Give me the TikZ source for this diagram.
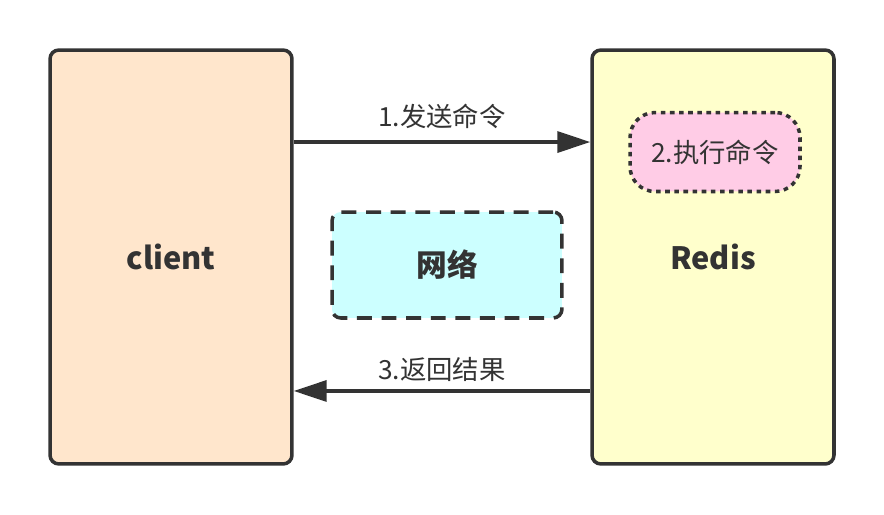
\documentclass[tikz,border=0pt]{standalone}
\usepackage{fontspec}
\setmainfont{Noto Sans CJK SC}
\usepackage{tikz}
\usetikzlibrary{positioning,arrows.meta}
\definecolor{ink}{HTML}{333333}
\definecolor{peach}{HTML}{FFE6CC}
\definecolor{lemon}{HTML}{FFFFCC}
\definecolor{rose}{HTML}{FFCCE6}
\definecolor{aqua}{HTML}{CCFFFF}

\begin{document}
\begin{tikzpicture}[x=0.02cm,y=-0.02cm,
  host/.style={draw=ink,line width=2pt,rounded corners=5pt,minimum width=4.84cm,
    minimum height=8.28cm,font=\fontsize{17.5}{20}\selectfont\bfseries,text=ink},
  net/.style={draw=ink,line width=2pt,rounded corners=5pt,fill=aqua,dash pattern=on 8.5pt off 5.5pt,
    minimum width=4.6cm,minimum height=2.12cm,font=\fontsize{17.5}{20}\selectfont\bfseries,text=ink},
  task/.style={draw=ink,line width=2pt,rounded corners=0.5cm,fill=rose,dash pattern=on 2.6pt off 2.6pt,
    minimum width=3.4cm,minimum height=1.58cm,font=\fontsize{15}{17}\selectfont,text=ink},
  arr/.style={draw=ink,line width=2pt,-{Triangle[length=6.6mm,width=4.2mm]}},
  lbl/.style={font=\fontsize{15}{17}\selectfont,text=ink}]
\useasboundingbox (0,0) rectangle (884,514);
\node[host,fill=peach] (client) at (171,257) {client};
\node[host,fill=lemon] (redis) at (713,257) {Redis};
\node[task] (exec) at (715,152) {2.执行命令};
\node[net] (web) at (447,265) {网络};
% request / reply
\draw[arr] ([yshift=2.3cm]client.east) -- node[lbl,above=3pt] (send) {1.发送命令} ([yshift=2.3cm]redis.west);
\draw[arr] ([yshift=-2.68cm]redis.west) -- node[lbl,above=1pt] (reply) {3.返回结果} ([yshift=-2.68cm]client.east);
\end{tikzpicture}
\end{document}
